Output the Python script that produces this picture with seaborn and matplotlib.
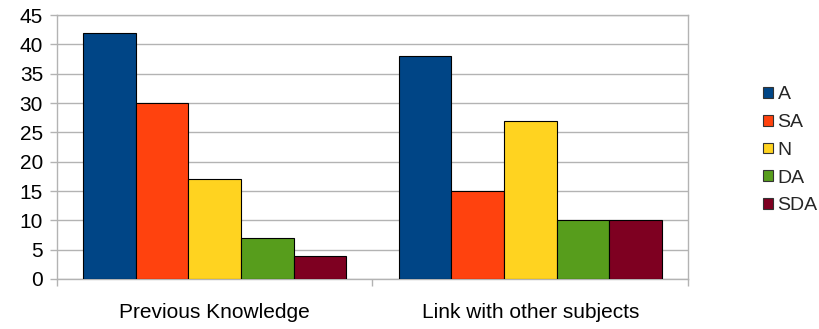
import matplotlib
matplotlib.use("Agg")
import matplotlib.pyplot as plt
from matplotlib.patches import Patch
from matplotlib.ticker import FixedLocator, NullFormatter
import seaborn as sns
import pandas as pd

categories = ["Previous Knowledge", "Link with other subjects"]
series = ["A", "SA", "N", "DA", "SDA"]
values_A = [42, 38]
values_SA = [30, 15]
values_N = [17, 27]
values_DA = [7, 10]
values_SDA = [4, 10]
colors = ["#004586", "#ff420e", "#ffd320", "#579d1c", "#7e0021"]

rows = []
for name, vals in zip(series, [values_A, values_SA, values_N, values_DA, values_SDA]):
    for cat, v in zip(categories, vals):
        rows.append({"category": cat, "series": name, "value": v})
df = pd.DataFrame(rows)

sns.set_theme(style="white")
plt.rcParams["font.family"] = ["Liberation Sans", "DejaVu Sans"]

fig = plt.figure(figsize=(8.2, 3.29), dpi=100)
ax = fig.add_axes([0.0695, 0.152, 0.7695, 0.802])

sns.barplot(data=df, x="category", y="value", hue="series", order=categories,
            hue_order=series, palette=colors, width=0.834, gap=0,
            edgecolor="black", linewidth=0.8, saturation=1, legend=False, ax=ax, zorder=3)

ax.set_xlim(-0.5, 1.5)
ax.set_ylim(0, 45)
ax.set_yticks(range(0, 46, 5))
ax.yaxis.grid(True, color="#b3b3b3", linewidth=1, zorder=0)
ax.set_axisbelow(True)
ax.set_xlabel("")
ax.set_ylabel("")

for s in ax.spines.values():
    s.set_color("#b3b3b3")
    s.set_linewidth(1)
    s.set_visible(True)

ax.tick_params(axis="y", which="major", length=5, color="#b3b3b3", width=1,
               labelsize=15, pad=5, left=True, labelcolor="black")
ax.tick_params(axis="x", which="major", length=0, labelsize=15, pad=17, labelcolor="black")
ax.xaxis.set_minor_locator(FixedLocator([-0.5, 0.5, 1.5]))
ax.xaxis.set_minor_formatter(NullFormatter())
ax.tick_params(axis="x", which="minor", length=5, color="#b3b3b3", width=1, bottom=True)

handles = [Patch(facecolor=c, edgecolor="#333333", linewidth=0.8, label=n)
           for c, n in zip(colors, series)]
fig.legend(handles=handles, loc="center left", bbox_to_anchor=(0.931, 0.543),
           frameon=False, fontsize=14, handlelength=0.48, handleheight=0.48,
           handletextpad=0.25, labelspacing=0.55, borderpad=0, borderaxespad=0)

fig.savefig("out.png", dpi=100)
